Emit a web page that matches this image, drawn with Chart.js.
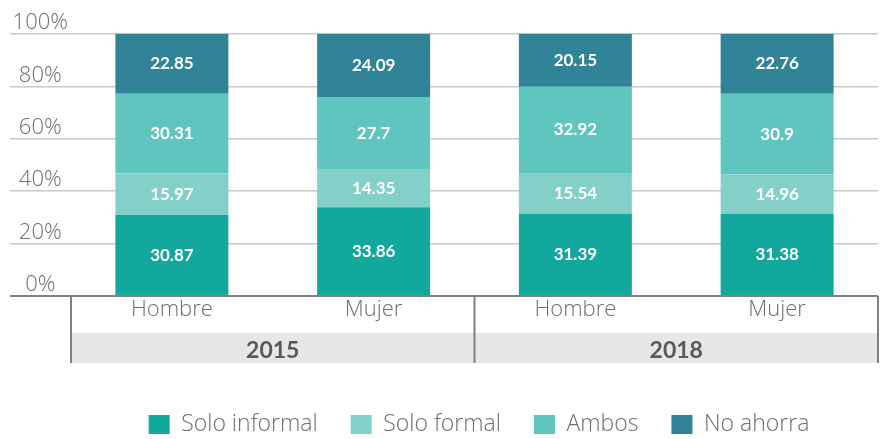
<!DOCTYPE html>
<html lang="es">
<head>
<meta charset="utf-8">
<title>Tipo de ahorro por sexo, 2015 y 2018</title>
<script src="https://cdn.jsdelivr.net/npm/chart.js@4"></script>
<style>
  html, body { margin: 0; padding: 0; background: #fff; }
  #wrap { width: 883px; height: 439px; position: relative; }
</style>
</head>
<body>
<div id="wrap"><canvas id="chart"></canvas></div>
<script>
// ------------------------------------------------------------------
// Data (percent of each group, each bar sums to 100)
// ------------------------------------------------------------------
const sexos = ["Hombre", "Mujer", "Hombre", "Mujer"];
const anios = ["2015", "2018"];          // each year groups two bars
const yTicks = [0, 20, 40, 60, 80, 100];

const seriesNames  = ["Solo informal", "Solo formal", "Ambos", "No ahorra"];
const soloInformal = [30.87, 33.86, 31.39, 31.38];
const soloFormal   = [15.97, 14.35, 15.54, 14.96];
const ambos        = [30.31, 27.7, 32.92, 30.9];
const noAhorra     = [22.85, 24.09, 20.15, 22.76];

const colors = ["#12a89d", "#82d0c8", "#5fc5bf", "#318398"];

const FONT = "Lato, 'Open Sans', sans-serif";
const LIGHT = "'Open Sans', Lato, sans-serif";
const TEXT = "#6d6e71";

// ------------------------------------------------------------------
// Plugins
// ------------------------------------------------------------------

// White value printed in the middle of every stacked segment
const segmentLabels = {
  id: "segmentLabels",
  afterDatasetsDraw(chart) {
    const ctx = chart.ctx;
    ctx.save();
    ctx.font = "bold 17px " + FONT;
    ctx.fillStyle = "#ffffff";
    ctx.textAlign = "center";
    ctx.textBaseline = "middle";
    chart.data.datasets.forEach((ds, i) => {
      chart.getDatasetMeta(i).data.forEach((bar, j) => {
        const { x, y, base } = bar.getProps(["x", "y", "base"], true);
        ctx.fillText(String(ds.data[j]), x, (y + base) / 2);
      });
    });
    ctx.restore();
  },
};

// Second row of the x axis: year bands with separators
const yearGroups = {
  id: "yearGroups",
  afterDraw(chart) {
    const xs = chart.scales.x;
    const ctx = chart.ctx;
    const top = xs.top;
    const bandTop = top + 37;
    const bandBottom = top + 67;
    const per = sexos.length / anios.length;
    const edge = (i) => i === 0 ? xs.left
      : i === sexos.length ? xs.right
      : (xs.getPixelForValue(i - 1) + xs.getPixelForValue(i)) / 2;

    ctx.save();
    ctx.fillStyle = "#e6e7e8";
    ctx.fillRect(xs.left, bandTop, xs.right - xs.left, bandBottom - bandTop);

    ctx.strokeStyle = "#808080";
    ctx.lineWidth = 2;
    for (let g = 0; g <= anios.length; g++) {
      const px = edge(g * per);
      ctx.beginPath();
      ctx.moveTo(px, top);
      ctx.lineTo(px, bandBottom);
      ctx.stroke();
    }

    ctx.font = "bold 23px " + FONT;
    ctx.fillStyle = "#58595b";
    ctx.textAlign = "center";
    ctx.textBaseline = "middle";
    anios.forEach((a, g) => {
      const cx = (edge(g * per) + edge((g + 1) * per)) / 2;
      ctx.fillText(a, cx, (bandTop + bandBottom) / 2 + 3);
    });
    ctx.restore();
  },
};

// Nudge the legend to where it sits in the original
const legendShift = {
  id: "legendShift",
  afterLayout(chart) {
    const lg = chart.legend;
    lg.left += 35; lg.right += 35;
    lg.top += 7;   lg.bottom += 7;
  },
};

// ------------------------------------------------------------------
// Chart
// ------------------------------------------------------------------
const seriesValues = [soloInformal, soloFormal, ambos, noAhorra];

new Chart(document.getElementById("chart"), {
  type: "bar",
  data: {
    labels: sexos,
    datasets: seriesNames.map((name, i) => ({
      label: name,
      data: seriesValues[i],
      backgroundColor: colors[i],
      borderWidth: 0,
      categoryPercentage: 1,
      barPercentage: 0.56,
    })),
  },
  options: {
    responsive: true,
    maintainAspectRatio: false,
    animation: false,
    layout: { padding: { top: 34, left: 10, right: 5, bottom: 0 } },
    plugins: {
      tooltip: { enabled: false },
      legend: {
        position: "bottom",
        labels: {
          boxWidth: 21,
          boxHeight: 19,
          padding: 33,
          color: TEXT,
          font: { family: LIGHT, size: 23, weight: 300 },
        },
      },
    },
    scales: {
      x: {
        stacked: true,
        grid: { display: false },
        border: { display: false },
        ticks: {
          padding: -7,
          color: TEXT,
          font: { family: LIGHT, size: 22, weight: 300 },
        },
        afterFit: (s) => { s.height = 77; },
      },
      y: {
        stacked: true,
        min: 0,
        max: 100,
        afterBuildTicks: (s) => { s.ticks = yTicks.map(v => ({ value: v })); },
        afterFit: (s) => { s.width = 61; },
        border: { display: false },
        grid: {
          drawTicks: true,
          tickLength: 61,
          color: (c) => c.tick && c.tick.value === 0 ? "#808080" : "#c8c8c8",
          lineWidth: (c) => c.tick && c.tick.value === 0 ? 2 : 1.5,
        },
        ticks: {
          crossAlign: "center",
          padding: -58,
          labelOffset: -11,
          color: TEXT,
          font: { family: LIGHT, size: 22, weight: 300 },
          callback: (v) => v + "%",
        },
      },
    },
  },
  plugins: [segmentLabels, yearGroups, legendShift],
});
</script>
</body>
</html>
